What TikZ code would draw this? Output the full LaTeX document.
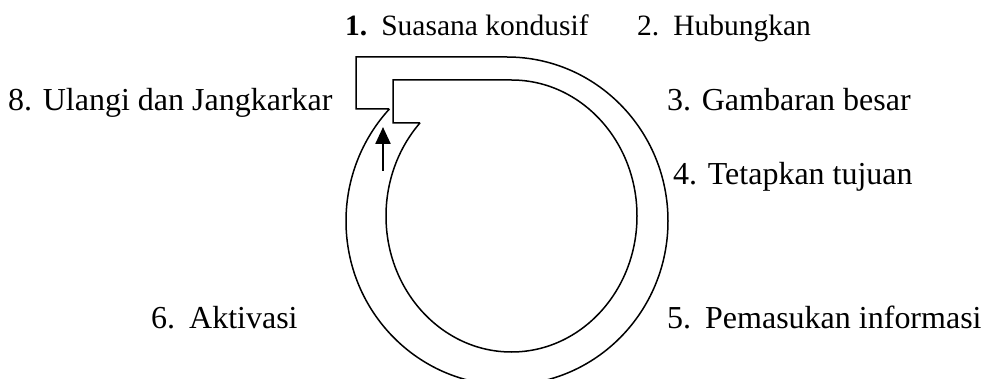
\documentclass[tikz,border=0pt]{standalone}
\usepackage{fontspec}
\setmainfont{Liberation Serif}
\usetikzlibrary{arrows.meta}
\begin{document}
\begin{tikzpicture}[x=1pt,y=1pt,
  outline/.style={line width=1.5pt, line join=miter},
  lbl/.style={anchor=base west, inner sep=0pt, font=\fontsize{32}{38}\selectfont},
  toplbl/.style={anchor=base west, inner sep=0pt, font=\fontsize{29.5}{35}\selectfont},
  uparrow/.style={line width=2.4pt, -{Triangle[width=15pt,length=17pt]}}]
\useasboundingbox (0,0) rectangle (997,378);
% outer band edge
\draw[outline] (389,269) -- (356,269) -- (356,321) -- (507,321)
  arc[start angle=90, end angle=-223.1, x radius=161pt, y radius=164pt];
% inner band edge
\draw[outline] (420,255) -- (393,255) -- (393,298) -- (511.5,298)
  arc[start angle=90, end angle=-223.2, x radius=125.5pt, y radius=136pt];
% arrow
\coordinate (arrtail) at (383,207);
\coordinate (arrtip) at (383,251);
\draw[uparrow] (arrtail) -- (arrtip);
% labels
\node[toplbl] (t1) at (345,342) {\textbf{1.}\hspace{14pt}Suasana kondusif};
\node[toplbl] (t2) at (637,342) {2.\hspace{14pt}Hubungkan};
\node[lbl] (t8) at (8,267) {8. Ulangi dan Jangkarkar};
\node[lbl] (t3) at (667,267) {3. Gambaran besar};
\node[lbl] (t4) at (673,193) {4. Tetapkan tujuan};
\node[lbl] (t6) at (151,49) {6.\hspace{14pt}Aktivasi};
\node[lbl] (t5) at (667,49) {5.\hspace{14pt}Pemasukan informasi};
\end{tikzpicture}
\end{document}
